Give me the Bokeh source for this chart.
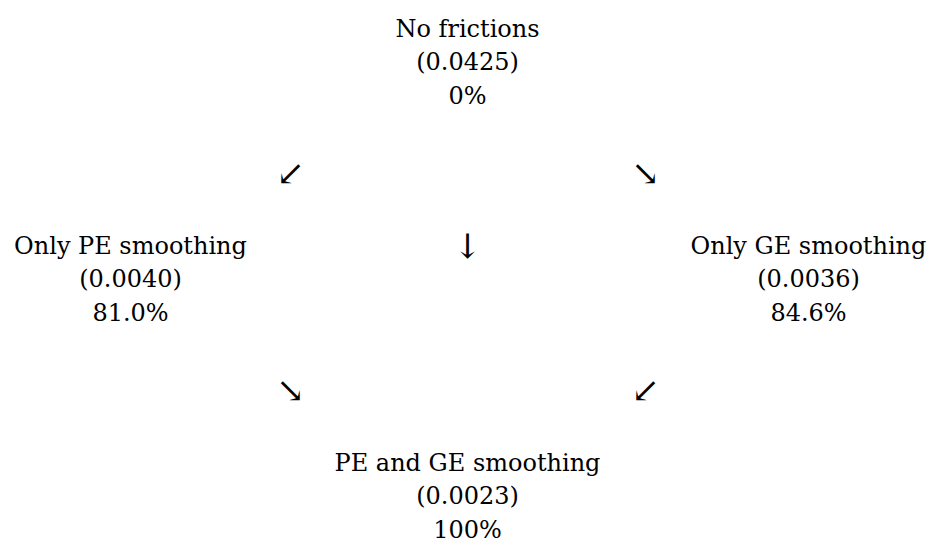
from bokeh.plotting import figure
from bokeh.models import Range1d
from bokeh.core.properties import value
from bokeh.embed import file_html
from bokeh.resources import INLINE

# Data
labels = ["No frictions", "Only PE smoothing", "Only GE smoothing", "PE and GE smoothing"]
values = ["(0.0425)", "(0.0040)", "(0.0036)", "(0.0023)"]
shares = ["0%", "81.0%", "84.6%", "100%"]
arrows = ["\u2199", "\u2198", "\u2193", "\u2198", "\u2199"]

# Layout (page pixels from the top-left corner)
node_x = [467, 130, 808, 467]
node_y = [28, 245, 245, 462]
arrow_x = [290, 645, 467, 290, 645]
arrow_y = [172, 172, 245, 389, 389]
line_gap = 33.5

W, H = 930, 543
FONT = "DejaVu Serif"
SIZE = "24px"

def fy(page_y):
    return H - page_y

p = figure(width=W, height=H, output_backend="svg", toolbar_location=None,
           x_range=Range1d(0, W), y_range=Range1d(0, H), min_border=0)
p.axis.visible = False
p.grid.visible = False
p.outline_line_color = None

xs, ys, ts = [], [], []
for i in range(len(labels)):
    for j, t in enumerate([labels[i], values[i], shares[i]]):
        xs.append(node_x[i])
        ys.append(fy(node_y[i] + j * line_gap))
        ts.append(t)

p.text(x=xs, y=ys, text=ts, text_font=value(FONT), text_font_size=SIZE,
       text_align="center", text_baseline="middle", text_color="#000000")

p.text(x=arrow_x, y=[fy(v) for v in arrow_y], text=arrows,
       text_font=value(FONT), text_font_size="34px",
       text_align="center", text_baseline="middle", text_color="#000000")

open("out.html", "w").write(file_html(p, INLINE))
